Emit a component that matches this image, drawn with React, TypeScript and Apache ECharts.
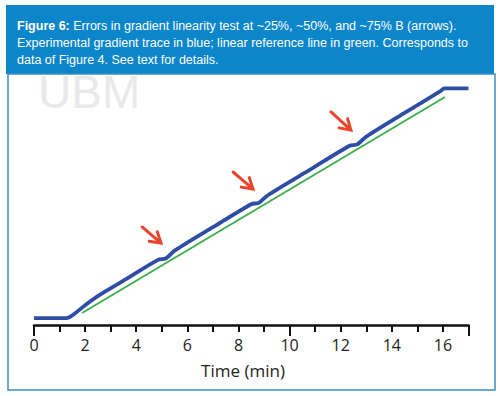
import React, { useEffect, useRef } from "react";
import * as echarts from "echarts";

// Experimental gradient trace (time in min, %B)
const blueTrace: number[][] = [
  [0, 0], [1.25, 0], [1.4, 0.5], [1.6, 2.0], [2.0, 5.6], [2.6, 10.3],
  [3.6, 16.9], [4.85, 25.3], [5.15, 25.9], [5.5, 29.3],
  [7.0, 39.5], [8.5, 49.5], [8.8, 50.1], [9.15, 53.4],
  [10.8, 64.5], [12.35, 74.9], [12.65, 75.5], [13.0, 78.9],
  [14.5, 89.2], [15.9, 98.6], [16.05, 99.8], [17.0, 99.8],
];
// Linear reference line
const greenLine: number[][] = [
  [1.88, 2.2], [16.08, 96.1],
];
// Arrows: tail -> tip
const arrowTails: number[][] = [[4.23, 39.6], [7.79, 63.5], [11.62, 89.6]];
const arrowTips: number[][] = [[4.97, 32.6], [8.57, 56.1], [12.4, 81.7]];

const xTicks = [0, 2, 4, 6, 8, 10, 12, 14, 16];
const xAxisTitle = "Time (min)";
const captionBold = "Figure 6:";
const captionLines = [
  " Errors in gradient linearity test at ~25%, ~50%, and ~75% B (arrows).",
  "Experimental gradient trace in blue; linear reference line in green. Corresponds to",
  "data of Figure 4. See text for details.",
];

export default function App() {
  const ref = useRef<HTMLDivElement>(null);
  useEffect(() => {
    document.body.style.margin = "0";
    if (!ref.current) return;
    const chart = echarts.init(ref.current, null, { renderer: "svg" });
    const arrowData = arrowTails.map((t, i) => [t[0], t[1], arrowTips[i][0], arrowTips[i][1]]);
    const font = "'Open Sans', 'DejaVu Sans', sans-serif";
    const sans = "'Liberation Sans', Arial, sans-serif";
    chart.setOption({
      animation: false,
      backgroundColor: "#ffffff",
      grid: { left: 34, right: 31.5, top: 88, bottom: 71, containLabel: false },
      xAxis: [
        {
          type: "value", min: 0, max: 17, interval: 1,
          axisLine: { onZero: false, lineStyle: { color: "#111", width: 2.5 } },
          axisTick: { length: 7, lineStyle: { color: "#111", width: 2 } },
          splitLine: { show: false },
          axisLabel: {
            margin: 12, color: "#222", fontSize: 16, fontFamily: font,
            formatter: (v: number) => (xTicks.includes(v) ? String(v) : ""),
          },
        },
        {
          type: "value", min: 0, max: 17, interval: 10, position: "bottom",
          axisLine: { show: false, onZero: false },
          axisTick: { length: 11, lineStyle: { color: "#111", width: 2 } },
          axisLabel: { show: false }, splitLine: { show: false },
        },
      ],
      yAxis: { type: "value", min: -3, max: 100, show: false },
      graphic: [
        {
          type: "text", z: 1, x: 38, y: 75,
          style: { text: "UBM", fill: "#e9e9e9", fontSize: 46, lineHeight: 34, verticalAlign: "top", fontFamily: sans },
        },
        {
          type: "rect", z: 2, shape: { x: 6, y: 5, width: 488, height: 69 },
          style: { fill: "#0b86cb" },
        },
        {
          type: "rect", z: 2, shape: { x: 8, y: 74, width: 487, height: 316 },
          style: { fill: "none", stroke: "#3d8ec9", lineWidth: 1.5 },
        },
        {
          type: "text", z: 3, x: 17, y: 19,
          style: {
            text: "{b|" + captionBold + "}" + captionLines[0],
            fill: "#ffffff", fontSize: 12.5, fontFamily: sans,
            rich: { b: { fontWeight: "bold", fill: "#ffffff", fontSize: 12.5, fontFamily: sans } },
          },
        },
        {
          type: "text", z: 3, x: 17, y: 36,
          style: { text: captionLines[1], fill: "#ffffff", fontSize: 12.5, fontFamily: sans },
        },
        {
          type: "text", z: 3, x: 17, y: 53,
          style: { text: captionLines[2], fill: "#ffffff", fontSize: 12.5, fontFamily: sans },
        },
        {
          type: "text", z: 3, x: 243, y: 370,
          style: { text: xAxisTitle, fill: "#222", fontSize: 17, fontFamily: font, align: "center", verticalAlign: "middle" },
        },
      ],
      series: [
        {
          type: "line", data: greenLine, showSymbol: false, clip: false,
          lineStyle: { color: "#3aae48", width: 1.8 }, z: 3,
        },
        {
          type: "line", data: blueTrace, showSymbol: false, clip: false, smooth: 0.25,
          lineStyle: { color: "#2e4da4", width: 3.8 }, z: 4,
        },
        {
          type: "custom", data: arrowData, clip: false, z: 5,
          encode: { x: [0, 2], y: [1, 3] },
          renderItem: (params: any, api: any) => {
            const a = api.coord([api.value(0), api.value(1)]);
            const b = api.coord([api.value(2), api.value(3)]);
            const ang = Math.atan2(b[1] - a[1], b[0] - a[0]);
            const L = 12;
            const h1 = [b[0] - L * Math.cos(ang - 0.55), b[1] - L * Math.sin(ang - 0.55)];
            const h2 = [b[0] - L * Math.cos(ang + 0.55), b[1] - L * Math.sin(ang + 0.55)];
            const st = { stroke: "#e8452c", lineWidth: 3, fill: "none", lineCap: "round", lineJoin: "miter" };
            return {
              type: "group",
              children: [
                { type: "line", shape: { x1: a[0], y1: a[1], x2: b[0] - 1.5 * Math.cos(ang), y2: b[1] - 1.5 * Math.sin(ang) }, style: st },
                { type: "polyline", shape: { points: [h1, b, h2] }, style: st },
              ],
            };
          },
        },
      ],
    });
    return () => chart.dispose();
  }, []);
  return <div ref={ref} style={{ width: 500, height: 396 }} />;
}
